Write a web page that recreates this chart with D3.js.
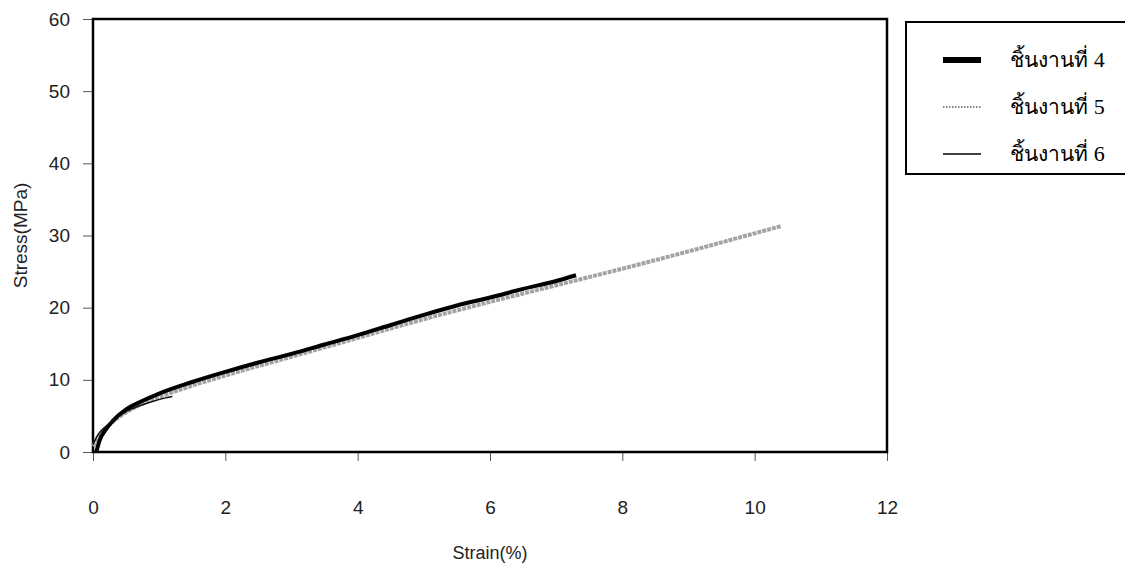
<!DOCTYPE html>
<html>
<head>
<meta charset="utf-8">
<script src="https://cdn.jsdelivr.net/npm/d3@7"></script>
<style>
  body { margin: 0; background: #fff; }
  text { font-family: "Liberation Sans", Arial, sans-serif; }
</style>
</head>
<body>
<div id="vis"></div>
<script>
// stress-strain curves of three specimens

var xTicks = [0, 2, 4, 6, 8, 10, 12];
var yTicks = [0, 10, 20, 30, 40, 50, 60];

// specimen 4 (thick black)
var strain4 = [0.05, 0.1, 0.2, 0.3, 0.5, 0.75, 1.0, 1.5, 2.0, 2.5, 3.0, 3.5, 4.0, 4.5, 5.0, 5.5, 6.0, 6.5, 7.0, 7.3];
var stress4 = [0, 1.6, 3.2, 4.3, 5.9, 7.1, 8.1, 9.7, 11.1, 12.4, 13.6, 14.9, 16.2, 17.6, 19.0, 20.3, 21.4, 22.6, 23.7, 24.5];

// specimen 5 (dotted, looks grey)
var strain5 = [0, 0.05, 0.1, 0.2, 0.3, 0.5, 0.75, 1.0, 1.5, 2, 3, 4, 5, 6, 7, 8, 9, 10, 10.4];
var stress5 = [0.8, 1.5, 2.2, 3.3, 4.2, 5.5, 6.7, 7.6, 9.2, 10.6, 13.2, 15.8, 18.4, 20.8, 23.1, 25.4, 27.8, 30.3, 31.3];

// specimen 6 (thin black)
var strain6 = [0, 0.05, 0.1, 0.2, 0.3, 0.4, 0.5, 0.7, 0.9, 1.1, 1.2];
var stress6 = [1.0, 2.0, 2.7, 3.6, 4.4, 5.0, 5.6, 6.4, 7.0, 7.5, 7.7];

var legendNames = ['ชิ้นงานที่', 'ชิ้นงานที่', 'ชิ้นงานที่'];
var legendNums = ['4', '5', '6'];

var svg = d3.select('#vis').append('svg')
  .attr('width', 1125)
  .attr('height', 567);

var x = d3.scaleLinear().domain([0, 12]).range([93, 887]);
var y = d3.scaleLinear().domain([0, 60]).range([452, 19]);

// x ticks + labels
var xAxis = svg.append('g')
  .attr('transform', 'translate(0,452)')
  .call(d3.axisBottom(x).tickValues(xTicks).tickSize(9).tickSizeOuter(0).tickPadding(40));
xAxis.select('.domain').remove();
xAxis.selectAll('line').attr('stroke', '#555');
xAxis.selectAll('text').attr('font-size', 19).attr('fill', '#222')
  .attr('font-family', '"Liberation Sans", Arial, sans-serif');

var yAxis = svg.append('g')
  .attr('transform', 'translate(93,0)')
  .call(d3.axisLeft(y).tickValues(yTicks).tickSize(10).tickSizeOuter(0).tickPadding(13));
yAxis.select('.domain').remove();
yAxis.selectAll('line').attr('stroke', '#555');
yAxis.selectAll('text').attr('font-size', 19).attr('fill', '#222')
  .attr('font-family', '"Liberation Sans", Arial, sans-serif');

// plot frame
svg.append('rect')
  .attr('x', x(0)).attr('y', y(60))
  .attr('width', x(12) - x(0)).attr('height', y(0) - y(60))
  .attr('fill', 'none').attr('stroke', '#000').attr('stroke-width', 2.5);

// axis titles
svg.append('text')
  .attr('x', (x(0) + x(12)) / 2).attr('y', 559)
  .attr('text-anchor', 'middle').attr('font-size', 18).attr('fill', '#222')
  .text('Strain(%)');

svg.append('text')
  .attr('transform', 'translate(27,' + (y(30)) + ') rotate(-90)')
  .attr('text-anchor', 'middle').attr('font-size', 19).attr('fill', '#222')
  .text('Stress(MPa)');

var line = d3.line()
  .x(function(d) { return x(d[0]); })
  .y(function(d) { return y(d[1]); })
  .curve(d3.curveMonotoneX);

var zip = function(a, b) { return a.map(function(v, i) { return [v, b[i]]; }); };

svg.append('path')
  .datum(zip(strain5, stress5))
  .attr('d', line)
  .attr('fill', 'none').attr('stroke', '#a3a3a3').attr('stroke-width', 4)
  .attr('stroke-dasharray', '4,1');

svg.append('path')
  .datum(zip(strain4, stress4))
  .attr('d', line)
  .attr('fill', 'none').attr('stroke', '#000').attr('stroke-width', 4);

svg.append('path')
  .datum(zip(strain6, stress6))
  .attr('d', line)
  .attr('fill', 'none').attr('stroke', '#111').attr('stroke-width', 1.5);

// legend
var lg = svg.append('g');
lg.append('rect')
  .attr('x', 906).attr('y', 22).attr('width', 240).attr('height', 152)
  .attr('fill', '#fff').attr('stroke', '#000').attr('stroke-width', 2);

var legendStyles = [
  {w: 6, dash: null},
  {w: 1.2, dash: '1.5,1.5'},
  {w: 1.5, dash: null}
];
var rowY = [59, 106, 153];

legendNames.forEach(function(name, i) {
  lg.append('line')
    .attr('x1', 943).attr('x2', 981)
    .attr('y1', rowY[i] + 1).attr('y2', rowY[i] + 1)
    .attr('stroke', '#000').attr('stroke-width', legendStyles[i].w)
    .attr('stroke-dasharray', legendStyles[i].dash);
  var t = lg.append('text')
    .attr('x', 1010).attr('y', rowY[i] + 8)
    .attr('font-size', 21)
    .attr('font-family', '"Noto Serif Thai", "Noto Sans Thai", serif')
    .attr('fill', '#000');
  t.append('tspan').text(name + ' ');
  t.append('tspan')
    .attr('font-family', '"Liberation Serif", "Times New Roman", serif')
    .attr('font-size', 22)
    .text(legendNums[i]);
});
</script>
</body>
</html>
